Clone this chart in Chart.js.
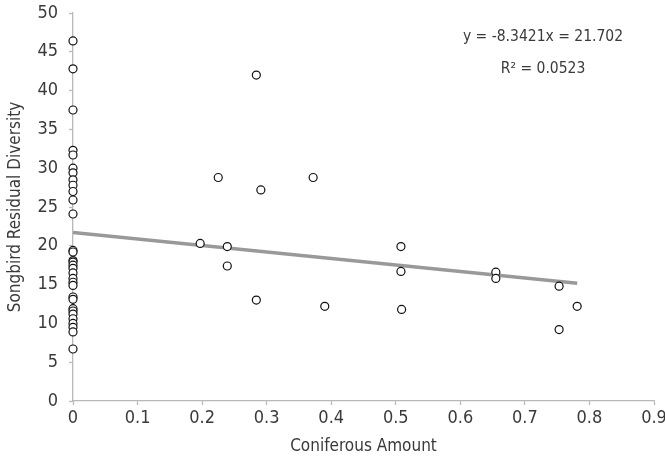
<!DOCTYPE html>
<html>
<head>
<meta charset="utf-8">
<script src="https://cdn.jsdelivr.net/npm/chart.js@4.4.0/dist/chart.umd.min.js"></script>
<style>
  html, body { margin: 0; padding: 0; background: #fff; }
  #wrap { width: 665px; height: 463px; }
</style>
</head>
<body>
<div id="wrap"><canvas id="chart"></canvas></div>
<script>
// points at coniferous amount = 0
var zeroY = [46.4, 42.8, 37.5, 32.3, 31.7, 30.0, 29.4, 28.5, 27.8, 27.0, 25.9, 24.1,
             19.4, 19.2, 18.1, 17.9, 17.5, 17.1, 16.5, 15.8, 15.3, 14.9, 13.4, 13.1,
             11.9, 11.6, 11.2, 10.6, 10.0, 9.5, 8.9, 6.7];
// remaining points
var otherX = [0.197, 0.225, 0.239, 0.239, 0.284, 0.284, 0.291, 0.372, 0.390,
              0.508, 0.508, 0.509, 0.655, 0.655, 0.753, 0.753, 0.781];
var otherY = [20.3, 28.8, 19.9, 17.4, 42.0, 13.0, 27.2, 28.8, 12.2,
              19.9, 16.7, 11.8, 16.6, 15.8, 14.8, 9.2, 12.2];

var slope = -8.3421;
var intercept = 21.702;
var eqText = 'y = -8.3421x = 21.702';
var r2Text = 'R\u00B2 = 0.0523';

var xTicks = [0, 0.1, 0.2, 0.3, 0.4, 0.5, 0.6, 0.7, 0.8, 0.9];

var points = zeroY.map(function(v){ return {x: 0, y: v}; })
  .concat(otherX.map(function(v, i){ return {x: v, y: otherY[i]}; }));
var maxX = Math.max.apply(null, otherX);
var trend = [{x: 0, y: intercept}, {x: maxX, y: intercept + slope * maxX}];

var FONT = "'DejaVu Sans Condensed', 'Liberation Sans Narrow', 'Roboto', sans-serif";
var TXT = '#3a3a3a';
var AXIS = '#b8b8b8';

var eqLabel = {
  id: 'eqLabel',
  afterDraw: function(chart){
    var ctx = chart.ctx;
    var a = chart.chartArea;
    ctx.save();
    ctx.fillStyle = TXT;
    ctx.font = '15.5px ' + FONT;
    ctx.textAlign = 'center';
    ctx.textBaseline = 'middle';
    ctx.fillText(eqText, a.right - 111, a.top + 24);
    ctx.fillText(r2Text, a.right - 111, a.top + 56);
    ctx.restore();
  }
};

new Chart(document.getElementById('chart'), {
  type: 'scatter',
  data: {
    datasets: [
      {
        label: 'Songbird',
        data: points,
        clip: false,
        pointRadius: 4,
        pointBorderWidth: 1.2,
        pointBorderColor: '#111',
        pointBackgroundColor: '#fff',
        order: 1
      },
      {
        label: 'Trend',
        type: 'line',
        data: trend,
        borderColor: '#999999',
        borderWidth: 3.5,
        pointRadius: 0,
        fill: false,
        order: 2
      }
    ]
  },
  options: {
    responsive: true,
    maintainAspectRatio: false,
    animation: false,
    layout: { padding: { left: 0, right: 11, top: 13, bottom: 0 } },
    plugins: { legend: { display: false }, tooltip: { enabled: false } },
    scales: {
      x: {
        type: 'linear',
        min: 0, max: 0.9,
        afterBuildTicks: function(s){ s.ticks = xTicks.map(function(v){ return {value: v}; }); },
        afterFit: function(s){ s.height = 62; s.paddingLeft = 0; s.paddingRight = 0; },
        border: { color: AXIS, width: 1.3 },
        grid: { drawOnChartArea: false, color: AXIS, tickLength: 4, tickWidth: 1.3 },
        ticks: { color: TXT, font: { family: FONT, size: 18 }, padding: 3,
                 maxRotation: 0, autoSkip: false,
                 callback: function(v){ return String(Math.round(v * 10) / 10); } },
        title: { display: true, text: 'Coniferous Amount', color: TXT,
                 font: { family: FONT, size: 17 }, padding: { top: 4, bottom: 6 } }
      },
      y: {
        min: 0, max: 50,
        afterFit: function(s){ s.width = 73; s.paddingTop = 0; s.paddingBottom = 0; },
        border: { color: AXIS, width: 1.3 },
        grid: { drawOnChartArea: false, color: AXIS, tickLength: 4, tickWidth: 1.3 },
        ticks: { stepSize: 5, color: TXT, font: { family: FONT, size: 18 }, padding: 11 },
        title: { display: true, text: 'Songbird Residual Diversity', color: TXT,
                 font: { family: FONT, size: 17 }, padding: { top: 5, bottom: 6 } }
      }
    }
  },
  plugins: [eqLabel]
});
</script>
</body>
</html>
